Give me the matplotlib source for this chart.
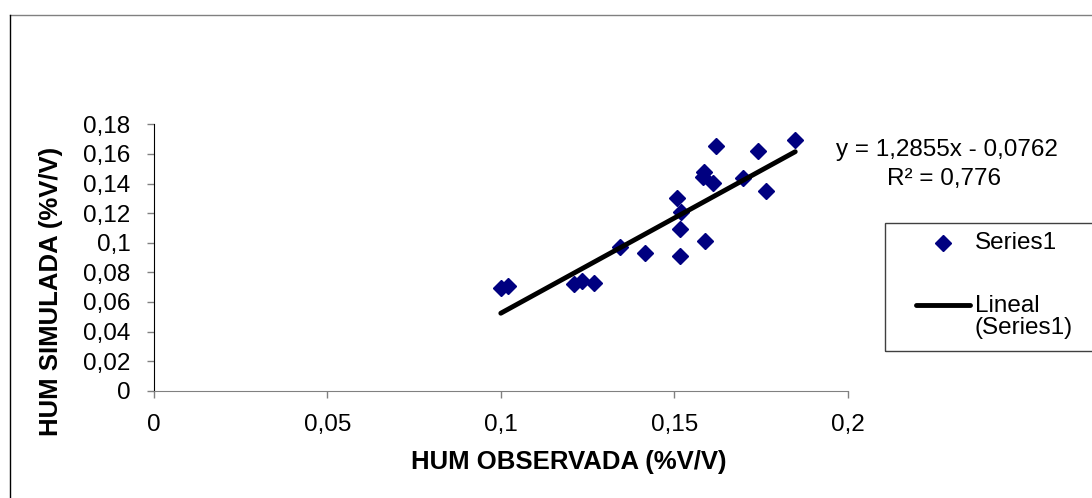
import matplotlib
matplotlib.use('Agg')
import matplotlib.pyplot as plt
from matplotlib.lines import Line2D
from matplotlib.patches import Rectangle
from matplotlib.ticker import FuncFormatter, MultipleLocator

plt.rcParams['font.family'] = ['Liberation Sans', 'DejaVu Sans']
fontsize = 17.5
labelsize = 18.5

# observed vs simulated soil moisture
hum_obs = [0.1000, 0.1022, 0.1211, 0.1233, 0.1269, 0.1344, 0.1417, 0.1508,
           0.1520, 0.1517, 0.1517, 0.1590, 0.1621, 0.1586, 0.1582, 0.1613,
           0.1699, 0.1743, 0.1765, 0.1849]
hum_sim = [0.0692, 0.0707, 0.0719, 0.0743, 0.0730, 0.0971, 0.0932, 0.1304,
           0.1209, 0.1093, 0.0910, 0.1014, 0.1653, 0.1476, 0.1446, 0.1405,
           0.1435, 0.1622, 0.1351, 0.1694]

# trendline as printed on the chart
slope = 1.2855
intercept = -0.0762
r2 = 0.776

W, H = 1092, 498


def fx(px):
    return px / W


def fy(py):
    return 1 - py / H


def comma(v, pos=None):
    return ('%g' % round(v, 4)).replace('.', ',')


fig = plt.figure(figsize=(W / 100, H / 100), dpi=100)
ax = fig.add_axes([fx(154), fy(390.7), (847.6 - 154) / W, (390.7 - 124.3) / H])

ax.plot(hum_obs, hum_sim, linestyle='none', marker='D', markersize=8.5,
        color='#000080', label='Series1', zorder=3)

x0, x1 = min(hum_obs), max(hum_obs)
ax.plot([x0, x1], [slope * x0 + intercept, slope * x1 + intercept],
        color='black', linewidth=3.5, solid_capstyle='round', zorder=4)

ax.set_xlim(0, 0.2)
ax.set_ylim(0, 0.18)
ax.xaxis.set_major_locator(MultipleLocator(0.05))
ax.yaxis.set_major_locator(MultipleLocator(0.02))
ax.xaxis.set_major_formatter(FuncFormatter(comma))
ax.yaxis.set_major_formatter(FuncFormatter(comma))

for s in ['top', 'right']:
    ax.spines[s].set_visible(False)
ax.spines['left'].set_color('black')
ax.spines['bottom'].set_color('#808080')
ax.tick_params(axis='both', direction='out', length=5, width=1,
               color='#808080', labelsize=fontsize)
ax.tick_params(axis='y', pad=12)
ax.tick_params(axis='x', pad=12)

ax.set_xlabel('HUM OBSERVADA (%V/V)', fontsize=labelsize, fontweight='bold',
              va='center')
ax.xaxis.set_label_coords(0.5976, -0.2695)
ax.set_ylabel('HUM SIMULADA (%V/V)', fontsize=labelsize, fontweight='bold',
              va='center')
ax.yaxis.set_label_coords(-0.1485, 0.372)

# equation text
eq = 'y = %sx - %s' % (comma(slope), comma(-intercept))
fig.text(fx(947), fy(150), eq, ha='center', va='center', fontsize=fontsize)
fig.text(fx(944), fy(179), 'R² = ' + comma(r2), ha='center',
         va='center', fontsize=fontsize)

# legend box, clipped by the right edge like the original
fig.add_artist(Rectangle((fx(885), fy(350.7)), fx(1120 - 885),
                         fy(222.7) - fy(350.7), transform=fig.transFigure,
                         fill=False, edgecolor='#404040', linewidth=1))
fig.add_artist(Line2D([fx(943)], [fy(242.7)], marker='D', markersize=8.5,
                      color='#000080', linestyle='none',
                      transform=fig.transFigure))
fig.add_artist(Line2D([fx(916), fx(970)], [fy(305), fy(305)], color='black',
                      linewidth=3.5, solid_capstyle='round',
                      transform=fig.transFigure))
fig.text(fx(975), fy(242.7), 'Series1', va='center', fontsize=fontsize)
fig.text(fx(975), fy(306), 'Lineal', va='center', fontsize=fontsize)
fig.text(fx(975), fy(328), '(Series1)', va='center', fontsize=fontsize)

# outer chart border
fig.add_artist(Line2D([fx(10), 1], [fy(15.5), fy(15.5)], color='#808080',
                      linewidth=1, transform=fig.transFigure))
fig.add_artist(Line2D([fx(10), fx(10)], [0, fy(15.5)], color='black',
                      linewidth=1, transform=fig.transFigure))

fig.savefig('out.png', dpi=100)
